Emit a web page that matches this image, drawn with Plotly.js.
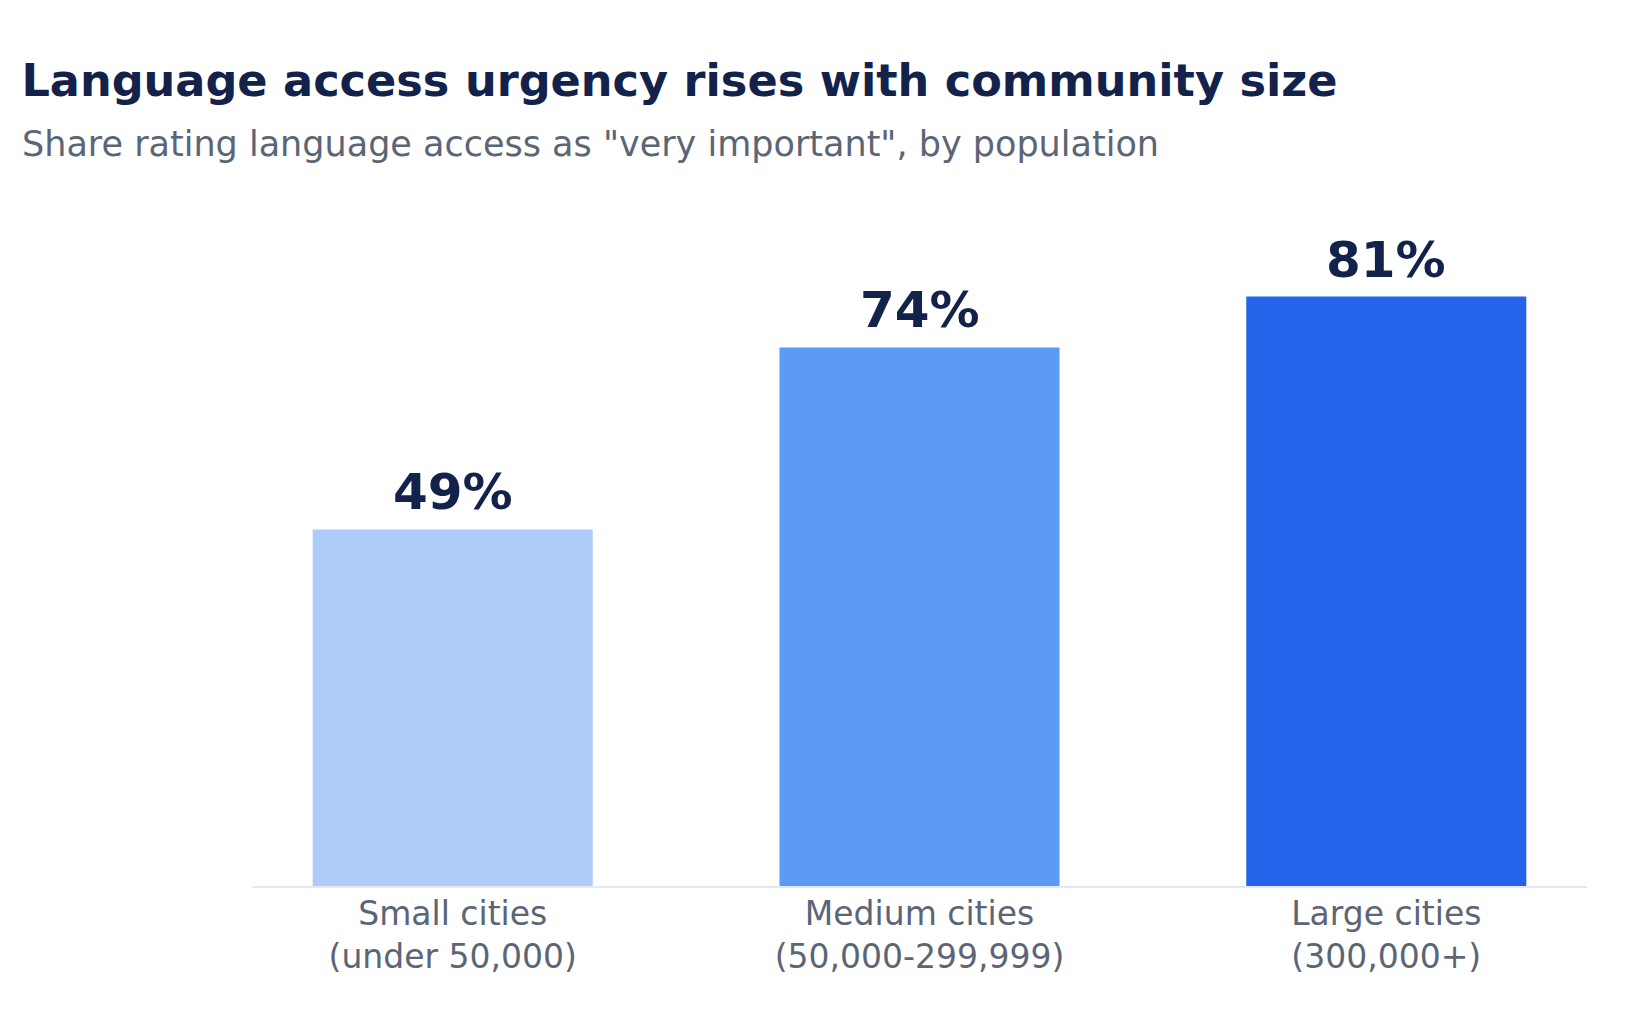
<!DOCTYPE html>
<html>
<head>
<meta charset="utf-8">
<script src="https://cdn.plot.ly/plotly-3.0.1.min.js"></script>
<style>
  html, body { margin: 0; padding: 0; background: #ffffff; }
  #chart { width: 1645px; height: 1028px; }
</style>
</head>
<body>
<div id="chart"></div>
<script>
// community size groups
const categories = ["Small cities<br>(under 50,000)", "Medium cities<br>(50,000-299,999)", "Large cities<br>(300,000+)"];
const shareVeryImportant = [49, 74, 81];
const barColors = ["#aecbfa", "#5b9af5", "#2563eb"];

const font = "DejaVu Sans, Verdana, sans-serif";

var trace = {
  x: categories,
  y: shareVeryImportant,
  type: "bar",
  marker: { color: barColors },
  hoverinfo: "skip"
};

// value labels above the bars
var labels = categories.map((c, i) => ({
  x: c,
  y: shareVeryImportant[i],
  xref: "x",
  yref: "y",
  text: "<b>" + shareVeryImportant[i] + "%</b>",
  showarrow: false,
  yanchor: "bottom",
  yshift: 6,
  font: { family: font, size: 50, color: "#13224a" }
}));

var layout = {
  width: 1645,
  height: 1028,
  paper_bgcolor: "#ffffff",
  plot_bgcolor: "#ffffff",
  margin: { l: 252, r: 58, t: 231, b: 142 },
  bargap: 0.4,
  showlegend: false,
  title: {
    text: "<b>Language access urgency rises with community size</b>",
    font: { family: font, size: 44.6, color: "#13224a" },
    xref: "container",
    yref: "container",
    x: 0.013,
    xanchor: "left",
    y: 0.922,
    yanchor: "middle"
  },
  annotations: labels.concat([{
    text: "Share rating language access as \"very important\", by population",
    xref: "paper",
    yref: "paper",
    x: -0.1738,
    y: 1.1328,
    xanchor: "left",
    yanchor: "middle",
    showarrow: false,
    font: { family: font, size: 35, color: "#5b6576" }
  }]),
  xaxis: {
    range: [-0.43, 2.43],
    showgrid: false,
    zeroline: false,
    showline: true,
    linecolor: "#e5e8f0",
    linewidth: 2,
    ticks: "",
    ticklabelstandoff: -3,
    tickfont: { family: font, size: 33, color: "#5b6576" },
    fixedrange: true
  },
  yaxis: {
    range: [0, 90],
    visible: false,
    showgrid: false,
    zeroline: false,
    fixedrange: true
  }
};

Plotly.newPlot("chart", [trace], layout, { displayModeBar: false, staticPlot: true });
</script>
</body>
</html>
